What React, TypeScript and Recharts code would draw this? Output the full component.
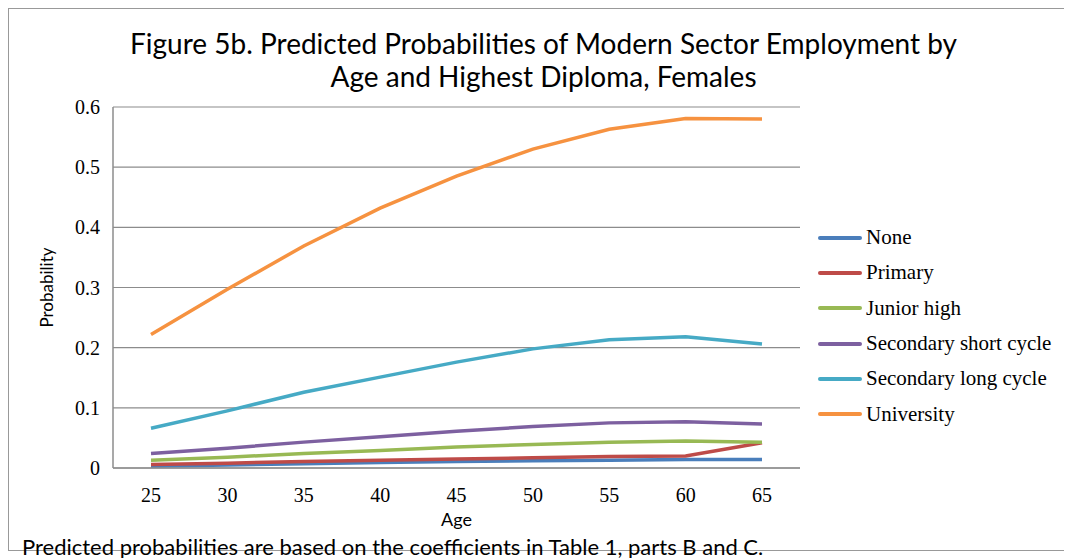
import React from "react";
import { LineChart, Line, XAxis, YAxis, CartesianGrid } from "recharts";

const ages = [25, 30, 35, 40, 45, 50, 55, 60, 65];
const none = [0.003, 0.005, 0.007, 0.009, 0.011, 0.012, 0.013, 0.014, 0.014];
const primary = [0.006, 0.008, 0.011, 0.013, 0.015, 0.017, 0.019, 0.02, 0.042];
const juniorHigh = [0.013, 0.018, 0.024, 0.029, 0.035, 0.039, 0.043, 0.045, 0.043];
const secondaryShort = [0.024, 0.033, 0.043, 0.052, 0.061, 0.069, 0.075, 0.077, 0.073];
const secondaryLong = [0.066, 0.095, 0.126, 0.151, 0.176, 0.198, 0.213, 0.218, 0.206];
const university = [0.222, 0.297, 0.369, 0.432, 0.485, 0.53, 0.563, 0.581, 0.58];
const yTicks = [0, 0.1, 0.2, 0.3, 0.4, 0.5, 0.6];

const series = [
  { key: "none", name: "None", values: none, color: "#4A7EBB" },
  { key: "primary", name: "Primary", values: primary, color: "#BE4B48" },
  { key: "junior", name: "Junior high", values: juniorHigh, color: "#98B954" },
  { key: "secShort", name: "Secondary short cycle", values: secondaryShort, color: "#7D60A0" },
  { key: "secLong", name: "Secondary long cycle", values: secondaryLong, color: "#46AAC5" },
  { key: "univ", name: "University", values: university, color: "#F69240" },
];

const data = ages.map((age, i) => {
  const row: Record<string, number> = { age };
  series.forEach((s) => (row[s.key] = s.values[i]));
  return row;
});

const serif = "Liberation Serif";
const sans = "Lato, 'Open Sans', sans-serif";

const renderXTick = (props: any) => {
  const { x, y, payload, index } = props;
  return (
    <text key={`xt-${index}`} x={x} y={y + 26} textAnchor="middle" fontFamily={serif} fontSize={20} fill="#000">
      {payload.value}
    </text>
  );
};

const renderYTick = (props: any) => {
  const { x, y, payload, index } = props;
  const v = payload.value === 0 ? "0" : String(payload.value);
  return (
    <text key={`yt-${index}`} x={x} y={y + 7} textAnchor="end" fontFamily={serif} fontSize={20} fill="#000">
      {v}
    </text>
  );
};

export default function App() {
  return (
    <div style={{ position: "relative", width: 1064, height: 550, background: "#fff" }}>
      <div
        style={{
          position: "absolute",
          left: 0,
          top: 0,
          width: 1063,
          height: 541,
          borderTop: "1px solid #999",
          borderLeft: "1px solid #999",
          borderBottom: "1px solid #999",
        }}
      />
      <div
        style={{
          position: "absolute",
          left: 1,
          width: 1069,
          top: 19,
          textAlign: "center",
          fontFamily: sans,
          fontSize: 28,
          lineHeight: "33px",
          color: "#000",
        }}
      >
        Figure 5b. Predicted Probabilities of Modern Sector Employment by
        <br />
        Age and Highest Diploma, Females
      </div>
      <div style={{ position: "absolute", left: 1, top: 1, fontFamily: serif }}>
        <LineChart
          width={1063}
          height={541}
          data={data}
          margin={{ top: 98, right: 272, bottom: 52, left: 30 }}
        >
          <CartesianGrid horizontal={true} vertical={false} stroke="#8c8c8c" strokeWidth={1.2} />
          <XAxis
            dataKey="age"
            type="category"
            padding={{ left: 38, right: 38 }}
            height={30}
            stroke="#8c8c8c"
            strokeWidth={1.5}
            tickLine={false}
            tick={renderXTick}
            label={{
              value: "Age",
              position: "insideBottom",
              offset: -28,
              style: { fontFamily: sans, fontSize: 18, fill: "#000" },
            }}
          />
          <YAxis
            type="number"
            domain={[0, 0.6]}
            ticks={yTicks}
            width={74}
            stroke="#8c8c8c"
            strokeWidth={1.5}
            tickLine={false}
            tickMargin={7}
            tick={renderYTick}
            label={{
              value: "Probability",
              angle: -90,
              position: "insideLeft",
              offset: 8,
              style: { fontFamily: sans, fontSize: 17, fill: "#000", textAnchor: "middle" },
            }}
          />
          {series.map((s) => (
            <Line
              key={s.key}
              type="linear"
              dataKey={s.key}
              name={s.name}
              stroke={s.color}
              strokeWidth={3.5}
              dot={false}
              activeDot={false}
              isAnimationActive={false}
            />
          ))}
        </LineChart>
      </div>
      <div
        style={{
          position: "absolute",
          left: 810,
          top: 212,
          fontFamily: serif,
          fontSize: 21,
          color: "#000",
          whiteSpace: "nowrap",
        }}
      >
        {series.map((s) => (
          <div key={s.key} style={{ display: "flex", alignItems: "center", height: 35.3 }}>
            <div style={{ width: 44, height: 4, background: s.color, borderRadius: 2, marginRight: 4 }} />
            <span>{s.name}</span>
          </div>
        ))}
      </div>
      <div
        style={{
          position: "absolute",
          left: 14,
          top: 526,
          fontFamily: sans,
          fontSize: 22,
          lineHeight: "26px",
          color: "#000",
          whiteSpace: "nowrap",
        }}
      >
        Predicted probabilities are based on the coefficients in Table 1, parts B and C.
      </div>
    </div>
  );
}
